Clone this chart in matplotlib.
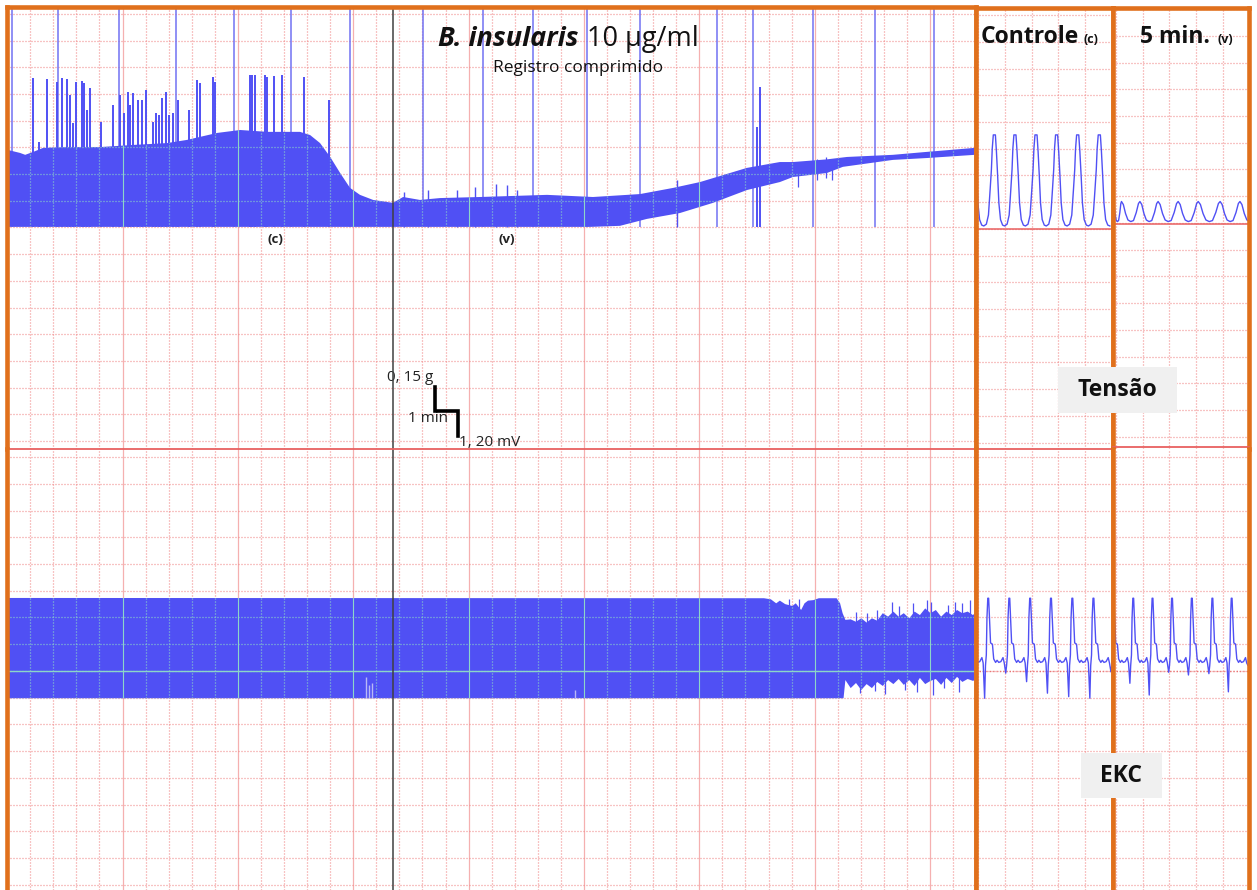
import numpy as np
import matplotlib
matplotlib.use('Agg')
import matplotlib.pyplot as plt
from matplotlib.patches import Rectangle
from matplotlib.ticker import MultipleLocator

plt.rcParams['font.family'] = ['Open Sans', 'DejaVu Sans']

# -----------------------------------------------------------------------
# Data  (main panel: x in minutes, y in grid divisions)
# -----------------------------------------------------------------------
# compressed tension record - envelope of the filled band
tens_top_t = [0.04, 0.56, 0.78, 1.13, 1.56, 2.60, 4.03, 5.46, 6.93, 7.80, 9.10, 10.10,
              11.27, 12.69, 13.13, 13.56, 14.00, 14.43, 14.86, 15.29, 15.86, 16.72, 17.16,
              17.89, 18.76, 20.49, 23.40, 25.39, 27.43, 28.86, 30.03, 32.06, 33.49, 34.06,
              35.53, 36.40, 38.39, 39.86, 41.94]
tens_top_y = [2.90, 2.79, 2.72, 2.83, 2.98, 3.01, 3.01, 3.09, 3.16, 3.28, 3.54, 3.65,
              3.58, 3.58, 3.46, 3.16, 2.64, 2.04, 1.48, 1.22, 1.03, 0.92, 1.14,
              1.03, 1.10, 1.14, 1.22, 1.14, 1.25, 1.48, 1.70, 2.23, 2.45, 2.45,
              2.55, 2.64, 2.72, 2.83, 2.98]
tens_bot_t = [0.04, 25.26, 26.56, 27.73, 29.16, 30.59, 32.06, 33.49, 34.06, 35.53,
              36.22, 38.39, 39.86, 41.94]
tens_bot_y = [0.02, 0.02, 0.06, 0.32, 0.54, 0.92, 1.40, 1.70, 1.89, 2.04,
              2.27, 2.53, 2.60, 2.72]

# artefacts on the tension record
tall_spike_t = [0.20, 2.22, 4.85, 7.31, 9.84, 12.30, 14.86, 18.04, 20.64, 22.78,
                25.12, 27.43, 30.78, 32.31, 34.93, 37.61, 40.16]
mid_spike_t = [1.10, 1.39, 1.72, 2.15, 2.37, 2.59, 2.73, 2.85, 2.99, 3.24, 3.35, 3.48,
               3.60, 4.07, 4.58, 4.90, 5.08, 5.23, 5.33, 5.45, 5.69, 5.84, 6.01, 6.34,
               6.44, 6.60, 6.70, 6.89, 7.03, 7.18, 7.40, 7.86, 8.22, 8.36, 8.90, 9.01,
               10.53, 10.62, 10.75, 11.18, 11.27, 11.57, 11.92, 12.88, 13.96, 32.52, 32.63]
mid_spike_y = [5.59, 3.21, 5.55, 5.46, 5.59, 5.55, 4.96, 3.91, 5.46, 5.50, 5.40, 4.40,
               5.21, 3.96, 4.59, 4.96, 4.28, 5.09, 4.59, 5.03, 4.78, 4.78, 5.15, 3.96,
               4.28, 4.21, 4.84, 5.09, 4.21, 4.28, 4.78, 4.40, 5.52, 5.40, 5.65, 5.46,
               5.71, 5.71, 5.71, 5.71, 5.65, 5.67, 5.71, 5.65, 4.78, 3.75, 5.27]
small_spike_t = [17.18, 18.26, 19.50, 20.28, 21.19, 21.66, 22.10, 29.03]
small_spike_y = [1.34, 1.40, 1.40, 1.53, 1.62, 1.59, 1.40, 1.78]
down_spike_t = [34.27, 35.10, 35.49, 35.75]
down_spike_y = [1.52, 1.78, 1.85, 1.78]

# compressed EKC record
ekc_top_t = [0.04, 32.80, 33.10, 33.33, 33.49, 33.72, 34.03, 34.18, 34.41, 34.56, 34.71,
             34.95, 35.18, 35.95, 36.10, 36.21, 36.33, 36.56, 36.79, 37.02, 37.25, 37.48,
             37.71, 37.95, 38.18, 38.41, 38.64, 38.86, 39.10, 39.33, 39.56, 39.79, 40.02,
             40.25, 40.48, 40.71, 40.94, 41.17, 41.40, 41.63, 41.86, 41.94]
ekc_top_y = [2.73, 2.72, 2.68, 2.53, 2.63, 2.50, 2.43, 2.53, 2.28, 2.53, 2.63,
             2.65, 2.72, 2.72, 2.53, 2.16, 1.91, 1.93, 1.84, 1.97, 1.81, 1.97,
             1.88, 2.16, 2.03, 2.22, 2.03, 2.16, 1.97, 2.22, 2.09, 2.34, 2.16,
             2.28, 2.03, 2.22, 2.09, 2.28, 2.16, 2.22, 2.09, 2.16]
ekc_bot_t = [0.04, 36.25, 36.33, 36.56, 36.79, 37.02, 37.25, 37.48, 37.71, 37.95, 38.18,
             38.41, 38.64, 38.86, 39.10, 39.33, 39.56, 39.79, 40.02, 40.25, 40.48, 40.71,
             40.94, 41.17, 41.40, 41.63, 41.86, 41.94]
ekc_bot_y = [-1.02, -1.02, -0.34, -0.64, -0.45, -0.71, -0.49, -0.64, -0.41, -0.56, -0.34,
             -0.49, -0.30, -0.52, -0.34, -0.56, -0.26, -0.49, -0.37, -0.30, -0.52, -0.26,
             -0.45, -0.22, -0.41, -0.30, -0.37, -0.34]
ekc_up_t = [33.90, 34.30, 36.79, 37.25, 37.71, 38.33, 38.64, 39.25, 39.86, 40.02,
            40.79, 41.10, 41.40, 41.71]
ekc_up_y = [2.70, 2.68, 2.22, 2.16, 2.28, 2.59, 2.43, 2.53, 2.65, 2.59,
            2.47, 2.59, 2.53, 2.65]
ekc_dn_t = [36.96, 37.60, 38.05, 38.91, 39.45, 40.12, 40.60, 41.25]
ekc_dn_y = [-0.82, -0.75, -0.86, -0.71, -0.80, -0.90, -0.65, -0.78]
ekc_light_t = [15.55, 15.68, 15.81, 24.61]
ekc_light_y = [-0.22, -0.52, -0.45, -0.71]

cursor_t = 16.72                      # black marker line
sample_t = [11.61, 21.66]             # where (c) and (v) were taken
sample_lbl = ['(c)', '(v)']

# -----------------------------------------------------------------------
# Data  (expanded panels: x in s, y in grid divisions)
# -----------------------------------------------------------------------
tens_phase = [-0.50, -0.38, -0.28, -0.20, -0.14, -0.10, -0.05, 0.05, 0.10, 0.16, 0.22, 0.30, 0.40, 0.50]
ctrl_tens_shape = [0.00, 0.02, 0.12, 0.40, 0.62, 0.85, 1.00, 1.00, 0.82, 0.55, 0.25, 0.07, 0.01, 0.00]
ctrl_tens_peaks = [-0.19, 0.60, 1.37, 2.16, 2.93, 3.72, 4.53]
ctrl_tens_low, ctrl_tens_high = 0.11, 3.52

vmin_phase = [-0.50, -0.35, -0.20, -0.08, 0.00, 0.10, 0.22, 0.35, 0.50]
vmin_tens_shape = [0.00, 0.05, 0.45, 0.90, 1.00, 0.85, 0.40, 0.08, 0.00]
vmin_tens_peaks = [-0.10, 0.21, 0.90, 1.58, 2.33, 3.08, 3.90, 4.64]
vmin_tens_low, vmin_tens_high = 0.05, 0.80

ekc_phase = [-0.50, -0.40, -0.30, -0.24, -0.17, -0.13, -0.09, -0.06, -0.02, 0.02, 0.06,
             0.11, 0.20, 0.26, 0.35, 0.42, 0.50]
ekc_shape = [0.32, 0.35, 0.50, 0.30, np.nan, 0.20, 0.60, 1.98, 2.72, 2.72, 1.98,
             1.05, 1.00, 0.45, 0.32, 0.40, 0.32]
ctrl_ekc_r = [0.37, 1.16, 1.94, 2.72, 3.52, 4.31, 5.10]
ctrl_ekc_dip = [-1.02, -0.08, -0.40, -0.83, -0.96, -1.02, -0.03]
vmin_ekc_r = [-0.09, 0.65, 1.37, 2.10, 2.84, 3.61, 4.33, 5.07]
vmin_ekc_dip = [0.20, -0.46, -0.90, -0.05, -0.15, -0.10, -0.78, 0.20]

# -----------------------------------------------------------------------
# Styles
# -----------------------------------------------------------------------
W, H = 1257, 890
BLUE = '#5050F4'
SPIKE = '#7272F2'
ORANGE = '#E0701C'
GRID = '#F08888'
GRID_SOLID = '#F5B0B0'
CYAN = '#8CD6C8'
RED = '#E86060'
DOT = (0, (0.8, 1.6))


def beat_train(peaks, phase, shape, period, dips=None):
    peaks = np.asarray(peaks, float)
    gaps = np.diff(peaks)
    left = np.r_[period, gaps]
    right = np.r_[gaps, period]
    ph = np.asarray(phase, float)
    xs, ys = [], []
    for i, p in enumerate(peaks):
        sh = np.array(shape, float)
        if dips is not None:
            sh[np.isnan(sh)] = dips[i]
        x = p + ph * np.where(ph < 0, left[i], right[i])
        if i > 0:
            x, sh = x[1:], sh[1:]
        xs.append(x)
        ys.append(sh)
    return np.concatenate(xs), np.concatenate(ys)


fig = plt.figure(figsize=(W / 100, H / 100), dpi=100)
fig.patch.set_facecolor('white')


def px_axes(x0, y0, x1, y1):
    return fig.add_axes([x0 / W, 1 - y1 / H, (x1 - x0) / W, (y1 - y0) / H])


def style(ax, xlim, ylim, xmajor, spines):
    ax.set_xlim(*xlim)
    ax.set_ylim(*ylim)
    ax.set_axisbelow(True)
    ax.xaxis.set_major_locator(MultipleLocator(xmajor))
    ax.xaxis.set_minor_locator(MultipleLocator(1))
    ax.yaxis.set_major_locator(MultipleLocator(1))
    if xmajor > 1:
        ax.xaxis.grid(True, which='major', color=GRID_SOLID, ls='-', lw=0.9)
    else:
        ax.xaxis.grid(True, which='major', color=GRID, ls=DOT, lw=0.9)
    ax.xaxis.grid(True, which='minor', color=GRID, ls=DOT, lw=0.9)
    ax.yaxis.grid(True, which='major', color=GRID, ls=DOT, lw=0.9)
    ax.tick_params(which='both', length=0, labelbottom=False, labelleft=False)
    for side, sp in ax.spines.items():
        if side in spines:
            sp.set_color(ORANGE)
            sp.set_linewidth(3.3)
            sp.set_zorder(5)
        else:
            sp.set_visible(False)


def cyan_grid(ax, patch, xmajor):
    x0, x1 = ax.get_xlim()
    y0, y1 = ax.get_ylim()
    xs = np.arange(np.ceil(x0), x1)
    minor = [x for x in xs if x % xmajor]
    major = [x for x in xs if not x % xmajor]
    ys = np.arange(np.ceil(y0), y1)
    for coll in (ax.vlines(minor, y0, y1, colors=CYAN, linestyles=DOT, lw=0.9, zorder=3),
                 ax.vlines(major, y0, y1, colors=CYAN, lw=0.8, zorder=3),
                 ax.hlines(ys, x0, x1, colors=CYAN, linestyles=DOT, lw=0.9, zorder=3)):
        coll.set_clip_path(patch)


# ----------------------------- main panel ------------------------------
ax_t = px_axes(7.2, 7.2, 976.2, 449)
style(ax_t, (0, 42.0), (-8.30, 8.25), 5, ['left', 'top', 'right'])
ax_e = px_axes(7.2, 449, 976.2, 890)
style(ax_e, (0, 42.0), (-8.19, 8.30), 5, ['left', 'right'])

ax_t.vlines(tall_spike_t, 0, 8.4, color=SPIKE, lw=1.1, zorder=1)
ax_t.vlines(mid_spike_t, 0, mid_spike_y, color=BLUE, lw=1.4, zorder=2)
ax_t.vlines(small_spike_t, 0, small_spike_y, color=BLUE, lw=1.0, zorder=2)
ax_t.vlines(down_spike_t, down_spike_y, np.array(down_spike_y) + 0.8, color=BLUE, lw=0.9, zorder=2)
band_t = ax_t.fill(np.r_[tens_top_t, tens_bot_t[::-1]], np.r_[tens_top_y, tens_bot_y[::-1]],
                   color=BLUE, lw=0, zorder=2)[0]
cyan_grid(ax_t, band_t, 5)
ax_t.axvline(cursor_t, color='#404040', lw=1.1, zorder=4)

ax_e.vlines(ekc_up_t, 0, ekc_up_y, color=BLUE, lw=0.9, zorder=2)
ax_e.vlines(ekc_dn_t, ekc_dn_y, 0, color=BLUE, lw=0.9, zorder=2)
band_e = ax_e.fill(np.r_[ekc_top_t, ekc_bot_t[::-1]], np.r_[ekc_top_y, ekc_bot_y[::-1]],
                   color=BLUE, lw=0, zorder=2)[0]
cyan_grid(ax_e, band_e, 5)
hl = ax_e.axhline(0, color=CYAN, lw=1.0, zorder=3)
hl.set_clip_path(band_e)
ax_e.vlines(ekc_light_t, -1.0, ekc_light_y, color='#B8B8F6', lw=1.0, zorder=3)
ax_e.axvline(cursor_t, color='#404040', lw=1.1, zorder=4)
ax_e.axhline(8.30, color=RED, lw=1.3, zorder=4, clip_on=False)

for t, lbl in zip(sample_t, sample_lbl):
    ax_t.text(t, -0.47, lbl, ha='center', va='center', fontsize=9.5, fontweight='bold', color='#222222')

# scale bar: 0.15 g / 1 min / 1.20 mV
sb_t, sb_y = 18.54, -5.97
g_len, min_len, mv_len = 0.90, 1.0, 0.94
ax_t.plot([sb_t, sb_t, sb_t + min_len, sb_t + min_len],
          [sb_y, sb_y - g_len, sb_y - g_len, sb_y - g_len - mv_len],
          color='black', lw=2.6, solid_joinstyle='miter', zorder=6, clip_on=False)
ax_t.text(sb_t - 0.05, sb_y + 0.35, '0, 15 g', ha='right', va='center', fontsize=11, color='#222222')
ax_t.text(sb_t + 0.55, sb_y - g_len - 0.3, '1 min', ha='right', va='center', fontsize=11, color='#222222')
ax_t.text(sb_t + min_len + 0.05, sb_y - g_len - mv_len - 0.25, '1, 20 mV', ha='left', va='center',
          fontsize=11, color='#222222')

# --------------------------- control panel -----------------------------
ax_ct = px_axes(976.2, 8.3, 1113.2, 449)
style(ax_ct, (-0.08, 5.05), (-8.24, 8.26), 1, ['left', 'top', 'right'])
ax_ce = px_axes(976.2, 449, 1113.2, 890)
style(ax_ce, (-0.08, 5.05), (-8.19, 8.30), 1, ['left', 'right'])

x, y = beat_train(ctrl_tens_peaks, tens_phase, ctrl_tens_shape, 0.79)
ax_ct.plot(x, ctrl_tens_low + (ctrl_tens_high - ctrl_tens_low) * y, color=BLUE, lw=1.0, zorder=3)
ax_ct.axhline(0.0, color=RED, lw=1.1, zorder=2)
x, y = beat_train(ctrl_ekc_r, ekc_phase, ekc_shape, 0.79, ctrl_ekc_dip)
ax_ce.plot(x, y, color=BLUE, lw=1.0, zorder=3)
ax_ce.axhline(0.0, color='#E87070', lw=1.0, ls=DOT, zorder=2)
ax_ce.axhline(8.30, color=RED, lw=1.3, zorder=4, clip_on=False)

# --------------------------- 5 min panel -------------------------------
ax_vt = px_axes(1113.2, 8.3, 1249.3, 449)
style(ax_vt, (-0.10, 4.99), (-8.46, 8.03), 1, ['left', 'top', 'right'])
ax_ve = px_axes(1113.2, 449, 1249.3, 890)
style(ax_ve, (-0.10, 4.99), (-8.19, 8.30), 1, ['left', 'right'])

x, y = beat_train(vmin_tens_peaks, vmin_phase, vmin_tens_shape, 0.74)
ax_vt.plot(x, vmin_tens_low + (vmin_tens_high - vmin_tens_low) * y, color=BLUE, lw=1.0, zorder=3)
ax_vt.axhline(-0.04, color=RED, lw=1.1, zorder=2)
x, y = beat_train(vmin_ekc_r, ekc_phase, ekc_shape, 0.74, vmin_ekc_dip)
ax_ve.plot(x, y, color=BLUE, lw=1.0, zorder=3)
ax_ve.axhline(0.0, color='#E87070', lw=1.0, ls=DOT, zorder=2)
ax_ve.axhline(8.38, color=RED, lw=1.3, zorder=4, clip_on=False)

# ------------------------------ texts ----------------------------------
def ftext(x, y, s, **kw):
    return fig.text(x / W, 1 - y / H, s, **kw)

ftext(578, 45.7, 'B. insularis', ha='right', va='baseline', fontsize=19.5,
      fontweight='bold', style='italic', color='#111111')
ftext(587, 45.7, '10 µg/ml', ha='left', va='baseline', fontsize=19.5, color='#111111')
ftext(578, 71.7, 'Registro comprimido', ha='center', va='baseline', fontsize=12.5, color='#111111')

ftext(981, 42.7, 'Controle', ha='left', va='baseline', fontsize=16.5, fontweight='bold', color='#111111')
ftext(1084, 42.7, '(c)', ha='left', va='baseline', fontsize=9, fontweight='bold', color='#111111')
ftext(1140, 42.7, '5 min.', ha='left', va='baseline', fontsize=16.5, fontweight='bold', color='#111111')
ftext(1218, 42.7, '(v)', ha='left', va='baseline', fontsize=9, fontweight='bold', color='#111111')

for (bx0, by0, bx1, by1), lbl in [((1058, 367, 1177, 413), 'Tensão'),
                                  ((1081, 753, 1162, 798), 'EKC')]:
    fig.add_artist(Rectangle((bx0 / W, 1 - by1 / H), (bx1 - bx0) / W, (by1 - by0) / H,
                             transform=fig.transFigure, facecolor='#F0F0F0', edgecolor='none',
                             zorder=10))
    ftext((bx0 + bx1) / 2, (by0 + by1) / 2, lbl, ha='center', va='center', fontsize=16.5,
          fontweight='bold', color='#111111', zorder=11)

fig.savefig('out.png', dpi=100)
